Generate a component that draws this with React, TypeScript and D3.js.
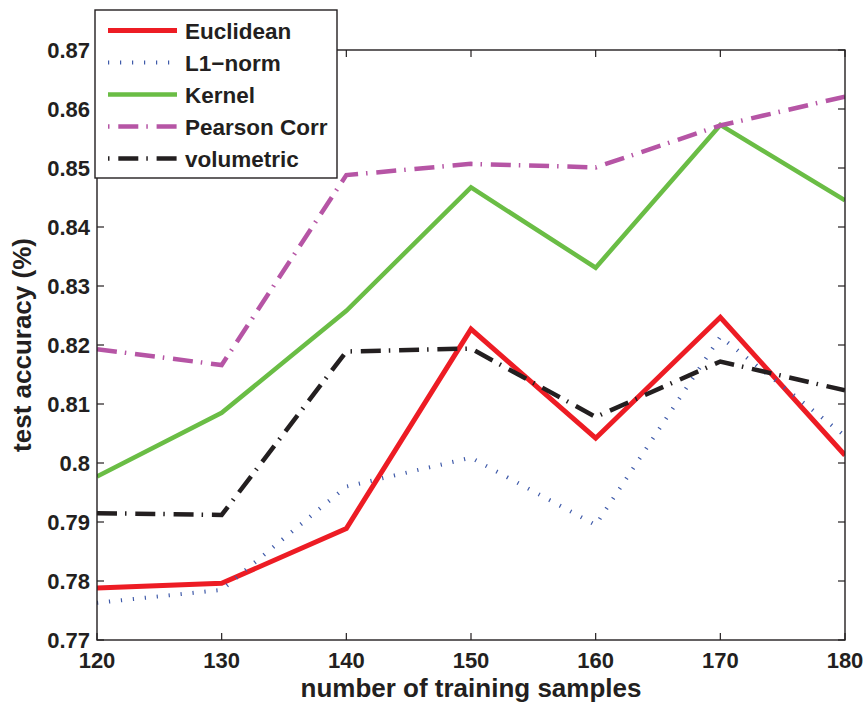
import React from 'react';
import * as d3 from 'd3';

// training sample counts on the x axis
const samples = [120, 130, 140, 150, 160, 170, 180];

// test accuracy per method
const euclidean = [0.7788, 0.7796, 0.7889, 0.8227, 0.8042, 0.8247, 0.8013];
const l1norm = [0.7763, 0.7785, 0.7960, 0.8009, 0.7895, 0.8214, 0.8046];
const kernel = [0.7977, 0.8085, 0.8258, 0.8467, 0.8331, 0.8573, 0.8445];
const pearson = [0.8193, 0.8166, 0.8488, 0.8507, 0.8501, 0.8572, 0.8621];
const volumetric = [0.7915, 0.7912, 0.8189, 0.8194, 0.8078, 0.8172, 0.8123];

const yTicks = [0.77, 0.78, 0.79, 0.8, 0.81, 0.82, 0.83, 0.84, 0.85, 0.86, 0.87];
const yTickLabels = ['0.77', '0.78', '0.79', '0.8', '0.81', '0.82', '0.83', '0.84', '0.85', '0.86', '0.87'];

const series = [
  { name: 'Euclidean', values: euclidean, color: '#ed1c24', width: 5, dash: null, offset: 0 },
  { name: 'L1\u2212norm', values: l1norm, color: '#3f5aa9', width: 4, dash: '1.2 10.8', offset: 0 },
  { name: 'Kernel', values: kernel, color: '#6abd45', width: 4.5, dash: null, offset: 0 },
  { name: 'Pearson Corr', values: pearson, color: '#b655a5', width: 4.5, dash: '20 8 1.5 8.8', offset: 28 },
  { name: 'volumetric', values: volumetric, color: '#231f20', width: 4.5, dash: '20 8 1.5 8.8', offset: 28 },
];

const W = 863;
const H = 704;
const margin = { left: 97, right: 18, top: 50, bottom: 64 };
const font = '"Liberation Sans", Arial, Helvetica, sans-serif';

export default function App() {
  const x = d3.scaleLinear().domain([120, 180]).range([margin.left, W - margin.right]);
  const y = d3.scaleLinear().domain([0.77, 0.87]).range([H - margin.bottom, margin.top]);

  const line = d3
    .line<number>()
    .x((_, i) => x(samples[i]))
    .y((d) => y(d));

  const [x0, x1] = x.range();
  const [yb, yt] = y.range();
  const tickLen = 7;
  const axisColor = '#231f20';

  // legend box
  const lg = { x: 95, y: 10, w: 242, h: 168, rowY: 30.5, rowStep: 32, lineX0: 108, lineX1: 177, textX: 185 };

  return (
    <svg
      width={W}
      height={H}
      style={{ position: 'absolute', left: 0, top: 0, background: '#fff' }}
      fontFamily={font}
    >
      <defs>
        <clipPath id="plot">
          <rect x={x0} y={yt} width={x1 - x0} height={yb - yt} />
        </clipPath>
      </defs>

      {/* data lines */}
      <g clipPath="url(#plot)">
        {series.map((s) => (
          <path
            key={s.name}
            d={line(s.values) || ''}
            fill="none"
            stroke={s.color}
            strokeWidth={s.width}
            strokeDasharray={s.dash || undefined}
            strokeLinejoin="miter"
          />
        ))}
      </g>

      {/* frame */}
      <rect x={x0} y={yt} width={x1 - x0} height={yb - yt} fill="none" stroke={axisColor} strokeWidth={1.4} />

      {/* x ticks */}
      {samples.map((s) => (
        <g key={'xt' + s}>
          <line x1={x(s)} x2={x(s)} y1={yb} y2={yb - tickLen} stroke={axisColor} strokeWidth={1.2} />
          <line x1={x(s)} x2={x(s)} y1={yt} y2={yt + tickLen} stroke={axisColor} strokeWidth={1.2} />
          <text x={x(s)} y={668} textAnchor="middle" fontSize={22} fontWeight="bold" fill={axisColor}>
            {s}
          </text>
        </g>
      ))}

      {/* y ticks */}
      {yTicks.map((t, i) => (
        <g key={'yt' + t}>
          <line x1={x0} x2={x0 + tickLen} y1={y(t)} y2={y(t)} stroke={axisColor} strokeWidth={1.2} />
          <line x1={x1} x2={x1 - tickLen} y1={y(t)} y2={y(t)} stroke={axisColor} strokeWidth={1.2} />
          <text x={90} y={y(t) + 8} textAnchor="end" fontSize={22} fontWeight="bold" fill={axisColor}>
            {yTickLabels[i]}
          </text>
        </g>
      ))}

      {/* axis titles */}
      <text x={(x0 + x1) / 2} y={697} textAnchor="middle" fontSize={26} fontWeight="bold" fill={axisColor}>
        number of training samples
      </text>
      <text
        transform={`translate(31, ${(yt + yb) / 2}) rotate(-90)`}
        textAnchor="middle"
        fontSize={26}
        fontWeight="bold"
        fill={axisColor}
      >
        test accuracy (%)
      </text>

      {/* legend */}
      <rect x={lg.x} y={lg.y} width={lg.w} height={lg.h} fill="#fff" stroke={axisColor} strokeWidth={1.4} />
      {series.map((s, i) => {
        const ry = lg.rowY + i * lg.rowStep;
        return (
          <g key={'lg' + s.name}>
            <line
              x1={lg.lineX0}
              x2={lg.lineX1}
              y1={ry}
              y2={ry}
              stroke={s.color}
              strokeWidth={s.width}
              strokeDasharray={s.dash || undefined}
              strokeDashoffset={s.offset}
            />
            <text x={lg.textX} y={ry + 8} fontSize={22.5} fontWeight="bold" fill={axisColor}>
              {s.name}
            </text>
          </g>
        );
      })}
    </svg>
  );
}
